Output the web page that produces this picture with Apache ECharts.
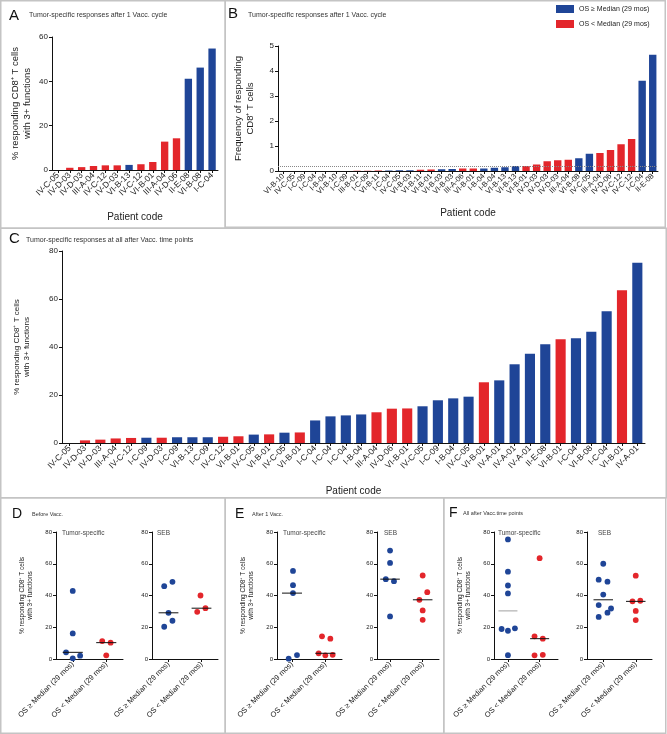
<!DOCTYPE html>
<html><head><meta charset="utf-8">
<script src="https://cdn.jsdelivr.net/npm/echarts@6/dist/echarts.min.js"></script>
<style>html,body{margin:0;padding:0;background:#fff}#c{width:667px;height:734px}</style>
</head><body><div id="c"></div>
<script>
const BLUE = '#1f4597', RED = '#e3262b';
const HI_LABEL = 'OS ≥ Median (29 mos)', LO_LABEL = 'OS < Median (29 mos)';
const FONT = '"Liberation Sans", Arial, Helvetica, sans-serif';

// ---- Panel A: after 1 Vacc. cycle (%)
const aCategories = ['IV-C-05','IV-D-03','IV-D-03','III-A-04','IV-C-12','IV-D-03','VI-B-13','IV-C-12','VI-B-01','III-A-04','IV-D-06','II-E-08','VI-B-08','I-C-04'];
const aValues = [0,1.0,1.3,1.8,2.1,2.1,2.3,2.6,3.6,12.8,14.3,41.2,46.2,54.8];
const aGroups = ['hi','lo','lo','lo','lo','lo','hi','lo','lo','lo','lo','hi','hi','hi'];
const aTicks = [0,20,40,60];

// ---- Panel B: frequency after 1 Vacc. cycle
const bCategories = ['VI-B-10','IV-C-05','I-C-09','I-C-04','I-B-04','VI-B-10','I-C-09','III-B-01','I-C-09','VI-B-11','I-C-04','IV-C-05','VI-B-03','VI-B-11','VI-B-01','VI-B-03','VI-B-03','III-A-06','VI-B-01','I-B-04','I-B-04','VI-B-13','VI-B-13','VI-B-01','IV-D-03','IV-D-03','IV-D-03','III-A-04','VI-B-08','IV-C-05','III-A-04','IV-D-06','IV-C-12','IV-C-12','I-C-04','II-E-08'];
const bValues = [0,0,0,0,0,0,0,0.01,0.01,0.02,0.02,0.03,0.03,0.05,0.06,0.07,0.08,0.1,0.1,0.1,0.13,0.15,0.2,0.2,0.26,0.39,0.43,0.45,0.51,0.69,0.72,0.84,1.07,1.28,3.61,4.65];
const bGroups = ['hi','hi','hi','hi','hi','hi','hi','lo','lo','lo','hi','hi','hi','lo','lo','hi','hi','lo','lo','hi','hi','hi','hi','lo','lo','lo','lo','lo','hi','hi','lo','lo','lo','lo','hi','hi'];
const bThreshold = 0.2;
const bTicks = [0,1,2,3,4,5];

// ---- Panel C: all after Vacc. time points (%)
const cCategories = ['IV-C-05','IV-D-03','IV-D-03','III-A-04','IV-C-12','I-C-09','IV-D-03','I-C-09','VI-B-13','I-C-09','IV-C-12','VI-B-01','IV-C-05','VI-B-01','IV-C-05','VI-B-01','I-C-04','I-C-04','I-C-04','I-B-04','III-A-04','IV-D-06','VI-B-01','IV-C-05','I-C-09','I-B-04','IV-C-05','VI-B-01','IV-A-01','IV-A-01','IV-A-01','II-E-08','VI-B-01','I-C-04','VI-B-08','I-C-04','VI-B-01','IV-A-01'];
const cValues = [0,1.1,1.4,1.9,2.1,2.2,2.2,2.4,2.4,2.4,2.6,2.8,3.5,3.6,4.3,4.4,9.4,11.1,11.5,11.9,12.8,14.3,14.4,15.3,17.8,18.6,19.3,25.3,26.1,32.8,37.2,41.1,43.2,43.6,46.4,54.9,63.6,75.1];
const cGroups = ['hi','lo','lo','lo','lo','hi','lo','hi','hi','hi','lo','lo','hi','lo','hi','lo','hi','hi','hi','hi','lo','lo','lo','hi','hi','hi','hi','lo','hi','hi','hi','hi','lo','hi','hi','hi','lo','hi'];
const cTicks = [0,20,40,60,80];

// ---- Panels D/E/F: scatter (values and horizontal jitter)
const dTumorHiValues = [42.9,16.1,4.2,2.1,0.4];   const dTumorHiJitter = [0,0,-0.2,0.22,0];
const dTumorLoValues = [11.3,10.3,2.3];           const dTumorLoJitter = [-0.12,0.13,0];
const dSebHiValues = [45.9,48.6,29.1,20.3,24.1];  const dSebHiJitter = [-0.13,0.12,0,-0.13,0.12];
const dSebLoValues = [40,29.7,32];                const dSebLoJitter = [-0.03,-0.13,0.12];

const eTumorHiValues = [55.5,46.5,41.5,2.5,0.2];  const eTumorHiJitter = [0.03,0.03,0.03,0.15,-0.1];
const eTumorLoValues = [14.3,12.8,3.6,2.3,2.6];   const eTumorLoJitter = [-0.1,0.15,-0.2,0,0.22];
const eSebHiValues = [68.3,60.5,50.3,49.0,26.8];  const eSebHiJitter = [0,0,-0.13,0.12,0];
const eSebLoValues = [52.6,42.1,37.3,30.6,24.7];  const eSebLoJitter = [0,0.14,-0.1,0,0];

const fTumorHiValues = [75.3,55,46.3,41.3,18.9,17.8,19.3,2.4]; const fTumorHiJitter = [0,0,0,0,-0.2,0,0.22,0];
const fTumorLoValues = [63.5,14.3,12.8,2.3,2.6];               const fTumorLoJitter = [0,-0.16,0.1,-0.16,0.1];
const fSebHiValues = [60,50,48.7,40.6,34,31.8,29.2,26.5];      const fSebHiJitter = [0,-0.14,0.13,0,-0.14,0.24,0.13,-0.14];
const fSebLoValues = [52.5,36.3,36.7,30.3,24.5];               const fSebLoJitter = [0,-0.1,0.14,0,0];
const scatterTicks = [0,20,40,60,80];

const Y_NAME = '% responding CD8⁺ T cells\nwith 3+ functions';

// ---------- builders ----------
const axisLineStyle = {color:'#111', width:1};
function median(arr){ const s=[...arr].sort((a,b)=>a-b); const n=s.length; return n%2? s[(n-1)/2] : (s[n/2-1]+s[n/2])/2; }

function barSeries(gi, vals, groups, gap, extraHi){
  const hi = {name:HI_LABEL, type:'bar', xAxisIndex:gi, yAxisIndex:gi, stack:'s'+gi, barCategoryGap:gap,
    itemStyle:{color:BLUE}, data: vals.map((v,i)=>groups[i]==='hi'?v:'-')};
  const lo = {name:LO_LABEL, type:'bar', xAxisIndex:gi, yAxisIndex:gi, stack:'s'+gi, barCategoryGap:gap,
    itemStyle:{color:RED}, data: vals.map((v,i)=>groups[i]==='lo'?v:'-')};
  if (extraHi) Object.assign(hi, extraHi);
  return [hi, lo];
}
function catXAxis(gi, cats, fs, gapName){
  return {gridIndex:gi, type:'category', data:cats,
    axisLine:{show:true, lineStyle:axisLineStyle},
    axisTick:{show:true, alignWithLabel:true, length:3, lineStyle:axisLineStyle},
    axisLabel:{interval:0, rotate:45, fontSize:fs, color:'#222', margin:4, fontFamily:FONT},
    name:'Patient code', nameLocation:'middle', nameGap:gapName,
    nameTextStyle:{fontSize:10, color:'#222', fontFamily:FONT}};
}
function valYAxis(gi, ticks, fs, name, nameFs, nameGap){
  const ax = {gridIndex:gi, type:'value', min:ticks[0], max:ticks[ticks.length-1], interval:ticks[1]-ticks[0],
    axisLine:{show:true, onZero:false, lineStyle:axisLineStyle},
    axisTick:{show:true, length:3, lineStyle:axisLineStyle},
    splitLine:{show:false},
    axisLabel:{fontSize:fs, color:'#222', margin:4, fontFamily:FONT}};
  if (name){ Object.assign(ax, {name:name, nameLocation:'middle', nameRotate:90, nameGap:nameGap,
    nameTextStyle:{fontSize:nameFs, color:'#222', fontFamily:FONT, lineHeight:nameFs*1.25, align:'center'}}); }
  return ax;
}
function scatterXAxis(gi, min, max){
  return {gridIndex:gi, type:'value', min:min, max:max,
    axisLine:{show:true, onZero:false, lineStyle:axisLineStyle},
    splitLine:{show:false},
    axisTick:{show:true, customValues:[0.5,1.5], length:3, lineStyle:axisLineStyle},
    axisLabel:{customValues:[0.5,1.5], formatter:(v)=> v<1?HI_LABEL:LO_LABEL, rotate:45, fontSize:7.5, color:'#222', margin:4, fontFamily:FONT}};
}
function scatterSeries(gi, hiV, hiJ, loV, loJ, hiMedColor){
  const mh = median(hiV), ml = median(loV);
  return [
    {name:HI_LABEL, type:'scatter', xAxisIndex:gi, yAxisIndex:gi, symbolSize:5.8, itemStyle:{color:BLUE, opacity:1},
      data: hiV.map((v,i)=>[0.5+hiJ[i], v])},
    {name:LO_LABEL, type:'scatter', xAxisIndex:gi, yAxisIndex:gi, symbolSize:5.8, itemStyle:{color:RED, opacity:1},
      data: loV.map((v,i)=>[1.5+loJ[i], v])},
    {type:'line', xAxisIndex:gi, yAxisIndex:gi, symbol:'none', silent:true, z:5,
      lineStyle:{color:hiMedColor||'#111', width:1}, data:[[0.2,mh],[0.8,mh]]},
    {type:'line', xAxisIndex:gi, yAxisIndex:gi, symbol:'none', silent:true, z:5,
      lineStyle:{color:'#111', width:1}, data:[[1.2,ml],[1.8,ml]]}
  ];
}

// ---------- layout ----------
const SC_TOP = 532, SC_H = 127;
const grids = [
  {left:52, top:37, width:166, height:133},
  {left:278, top:46, width:380, height:125},
  {left:62, top:251, width:583, height:192},
  {left:56, top:SC_TOP, width:67, height:SC_H},
  {left:152, top:SC_TOP, width:66, height:SC_H},
  {left:277, top:SC_TOP, width:65, height:SC_H},
  {left:377, top:SC_TOP, width:62, height:SC_H},
  {left:494, top:SC_TOP, width:64, height:SC_H},
  {left:587, top:SC_TOP, width:65, height:SC_H}
];

const xAxes = [
  catXAxis(0, aCategories, 8.5, 42),
  catXAxis(1, bCategories, 7.5, 37),
  catXAxis(2, cCategories, 8.5, 43),
  scatterXAxis(3, 0, 2), scatterXAxis(4, 0, 2),
  scatterXAxis(5, 0.05, 2), scatterXAxis(6, 0.1, 2),
  scatterXAxis(7, 0.06, 2.08), scatterXAxis(8, 0, 2)
];
const yAxes = [
  valYAxis(0, aTicks, 8, Y_NAME, 9.5, 19),
  valYAxis(1, bTicks, 8, 'Frequency of responding\nCD8⁺ T cells', 9.5, 22),
  valYAxis(2, cTicks, 8, Y_NAME, 8, 30),
  valYAxis(3, scatterTicks, 6, Y_NAME, 6.5, 22),
  valYAxis(4, scatterTicks, 6),
  valYAxis(5, scatterTicks, 6, Y_NAME, 6.5, 22),
  valYAxis(6, scatterTicks, 6),
  valYAxis(7, scatterTicks, 6, Y_NAME, 6.5, 22),
  valYAxis(8, scatterTicks, 6)
];

const series = [
  ...barSeries(0, aValues, aGroups, '38%'),
  ...barSeries(1, bValues, bGroups, '30%', {markLine:{silent:true, symbol:'none', label:{show:false},
      lineStyle:{type:'dotted', color:'#888', width:1}, data:[{yAxis:bThreshold}]}}),
  ...barSeries(2, cValues, cGroups, '34%'),
  ...scatterSeries(3, dTumorHiValues, dTumorHiJitter, dTumorLoValues, dTumorLoJitter),
  ...scatterSeries(4, dSebHiValues, dSebHiJitter, dSebLoValues, dSebLoJitter),
  ...scatterSeries(5, eTumorHiValues, eTumorHiJitter, eTumorLoValues, eTumorLoJitter),
  ...scatterSeries(6, eSebHiValues, eSebHiJitter, eSebLoValues, eSebLoJitter),
  ...scatterSeries(7, fTumorHiValues, fTumorHiJitter, fTumorLoValues, fTumorLoJitter, '#a0a0a0'),
  ...scatterSeries(8, fSebHiValues, fSebHiJitter, fSebLoValues, fSebLoJitter)
];

function txt(x, y, s, size, color){
  return {type:'text', silent:true, style:{x:x, y:y, text:s, font:size+'px '+FONT, fill:color||'#222',
    textVerticalAlign:'middle', verticalAlign:'middle', textAlign:'left', align:'left'}};
}
function box(x, y, w, h){
  return {type:'rect', silent:true, shape:{x:x, y:y, width:w, height:h}, style:{fill:'none', stroke:'#c4c4c4', lineWidth:1.5}};
}
const graphics = [
  box(0.75,0.75,224.5,227.5), box(225.25,0.75,440,226.5), box(0.75,228.25,665.5,269.5),
  box(0.75,497.75,224.5,235.5), box(225.25,497.75,218.5,235.5), box(443.75,497.75,222,235.5),
  txt(9,16,'A',15,'#111'), txt(29,15,'Tumor-specific responses after 1 Vacc. cycle',7,'#333'),
  txt(228,14,'B',15,'#111'), txt(248,15,'Tumor-specific responses after 1 Vacc. cycle',7,'#333'),
  txt(9,239,'C',15,'#111'), txt(26,240,'Tumor-specific responses at all after Vacc. time points',7,'#333'),
  txt(12,514,'D',14,'#111'), txt(32,514,'Before Vacc.',5.5,'#333'),
  txt(235,514,'E',14,'#111'), txt(252,514,'After 1 Vacc.',5.5,'#333'),
  txt(449,513,'F',14,'#111'), txt(463,513,'All after Vacc.time points',5.5,'#333'),
  txt(62,533,'Tumor-specific',6.5,'#444'), txt(157,533,'SEB',6.5,'#444'),
  txt(283,533,'Tumor-specific',6.5,'#444'), txt(384,533,'SEB',6.5,'#444'),
  txt(498,533,'Tumor-specific',6.5,'#444'), txt(598,533,'SEB',6.5,'#444')
];

const chart = echarts.init(document.getElementById('c'), null, {renderer:'canvas'});
chart.setOption({
  animation:false,
  backgroundColor:'#fff',
  textStyle:{fontFamily:FONT},
  grid:grids, xAxis:xAxes, yAxis:yAxes, series:series,
  legend:{data:[HI_LABEL, LO_LABEL], orient:'vertical', left:556, top:5, padding:0, itemWidth:18, itemHeight:8, itemGap:7,
    icon:'rect', textStyle:{fontSize:7, color:'#222', fontFamily:FONT}, selectedMode:false},
  graphic:graphics
});
</script></body></html>
